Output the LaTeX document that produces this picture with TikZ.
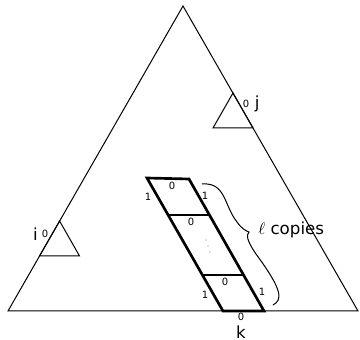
\documentclass[tikz,border=0pt]{standalone}
\usepackage{fontspec}
\setmainfont{DejaVu Sans}
\usetikzlibrary{positioning}

\begin{document}
\begin{tikzpicture}[x=0.6pt, y=-0.6pt,
  edge/.style={line width=0.6pt, line join=miter},
  strip/.style={line width=1.6pt, line join=miter},
  lbl/.style={inner sep=0pt, font=\fontsize{10}{12}\selectfont},
  bit/.style={inner sep=0pt, font=\fontsize{6}{7}\selectfont},
  dot/.style={fill=gray, draw=none, circle, inner sep=0pt, minimum size=0.7pt}]
  \useasboundingbox (0,0) rectangle (360,340);
  % big triangle
  \coordinate (T) at (183,6);
  \coordinate (L) at (8,311);
  \coordinate (R) at (358,311);
  \draw[edge] (T) -- (L) -- (R) -- cycle;
  % small triangle at i
  \coordinate (iT) at (59.6,221);
  \coordinate (iL) at (39.5,256);
  \coordinate (iR) at (79.5,256);
  \draw[edge] (iT) -- (iL) -- (iR) -- cycle;
  \node[bit] (i0) at (45,234) {0};
  \node[lbl, left=2pt of i0] (i) {i};
  % small triangle at j
  \coordinate (jT) at (233,93);
  \coordinate (jL) at (213,128);
  \coordinate (jR) at (253,128);
  \draw[edge] (jT) -- (jL) -- (jR) -- cycle;
  \node[bit] (j0) at (246,104) {0};
  \node[lbl, right=3pt of j0] (j) {j};
  % the strip of l copies
  \coordinate (s1) at (147,178);
  \coordinate (s2) at (189,179);
  \coordinate (s3) at (264,311);
  \coordinate (s4) at (223,311);
  \coordinate (m1) at (168,215);
  \coordinate (m2) at (210,215);
  \coordinate (n1) at (203,275);
  \coordinate (n2) at (244,275);
  \draw[strip] (s1) -- (s2) -- (s3) -- (s4) -- cycle;
  \draw[strip] (m1) -- (m2);
  \draw[strip] (n1) -- (n2);
  \node[bit] (a0) at (172,186) {0};
  \node[bit] (a1) at (148,197) {1};
  \node[bit] (a2) at (205,196) {1};
  \node[bit] (b0) at (191,222) {0};
  \node[dot] (d1) at (206,240) {};
  \node[dot] (d2) at (208,246) {};
  \node[dot] (d3) at (210,252) {};
  \node[bit] (c0) at (225,282) {0};
  \node[bit] (c1) at (205,295) {1};
  \node[bit] (c2) at (262,292) {1};
  \node[bit] (k0) at (241,317) {0};
  \node[lbl, below=2.5pt of k0] (k) {k};
  % brace
  \coordinate (bA) at (202,184);
  \coordinate (bM) at (249,232);
  \coordinate (bB) at (273,305);
  \draw[edge] (bA) .. controls (226,182) and (224,206) .. (237,222)
    .. controls (242,229) and (246,231) .. (bM)
    .. controls (246,235) and (247,241) .. (256,254)
    .. controls (284,292) and (282,300) .. (bB);
  \node[lbl, anchor=west] (copies) at (258,230) {$\ell$ copies};
\end{tikzpicture}
\end{document}
